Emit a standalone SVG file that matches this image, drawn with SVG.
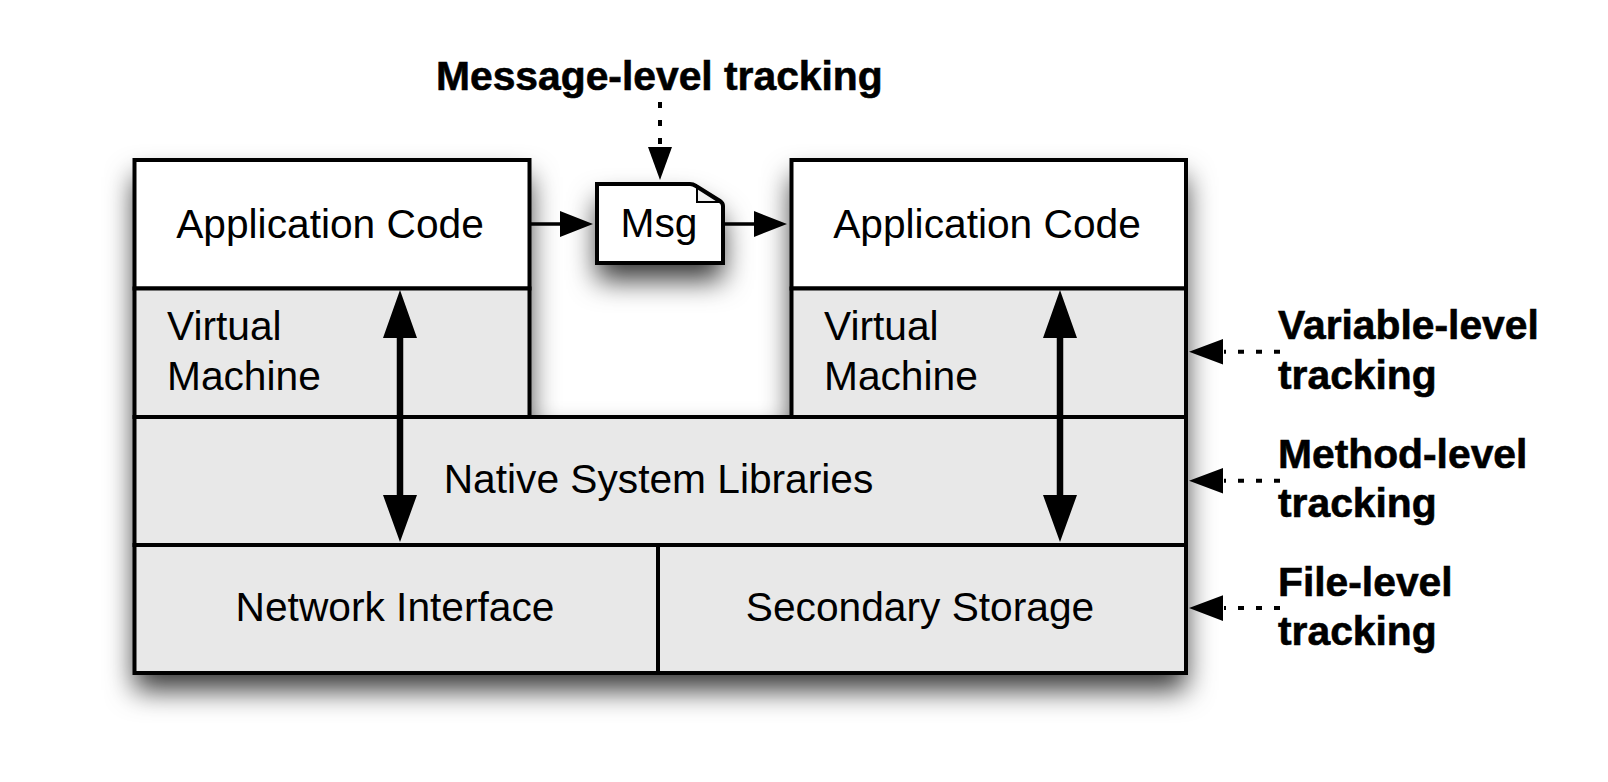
<svg xmlns="http://www.w3.org/2000/svg" width="1608" height="782" viewBox="0 0 1608 782">
<style>
.b{stroke:#000;stroke-width:4}
.w{fill:#fff}.g{fill:#e8e8e8}
text{font-family:"Liberation Sans",Arial,sans-serif;fill:#000}
.t{font-size:40.7px}
.h{font-size:40.8px;font-weight:bold;stroke:#000;stroke-width:.6}
.d{stroke:#000;stroke-width:4;stroke-dasharray:6 12;fill:none}
.s{stroke:#000;stroke-width:3.5;fill:none}
.k{stroke:#000;stroke-width:6.5;fill:none}
</style>
<defs>
<filter id="sh" filterUnits="userSpaceOnUse" x="60" y="100" width="1200" height="680">
<feDropShadow dx="0" dy="17" stdDeviation="14" flood-color="#000" flood-opacity="0.78"/>
</filter>
</defs>
<path d="M134.500 160H529.500V417H791.500V160H1186V673H134.500Z" fill="#fff" filter="url(#sh)"/>
<path d="M597 184H690L723 203V263H597Z" fill="#fff" filter="url(#sh)"/>
<g id="app-left"><rect class="w b" x="134.500" y="160" width="395" height="128.500"/><text class="t" x="330" y="238" text-anchor="middle">Application Code</text></g>
<g id="vm-left"><rect class="g b" x="134.500" y="288.500" width="395" height="128.500"/><text class="t" x="167" y="340">Virtual</text><text class="t" x="167" y="390">Machine</text></g>
<g id="app-right"><rect class="w b" x="791.500" y="160" width="394.500" height="128.500"/><text class="t" x="987" y="238" text-anchor="middle">Application Code</text></g>
<g id="vm-right"><rect class="g b" x="791.500" y="288.500" width="394.500" height="128.500"/><text class="t" x="824" y="340">Virtual</text><text class="t" x="824" y="390">Machine</text></g>
<g id="native"><rect class="g b" x="134.500" y="417" width="1051.500" height="128"/><text class="t" x="658.500" y="493" text-anchor="middle">Native System Libraries</text></g>
<g id="network"><rect class="g b" x="134.500" y="545" width="523.500" height="128"/><text class="t" x="395" y="621" text-anchor="middle">Network Interface</text></g>
<g id="storage"><rect class="g b" x="658" y="545" width="528" height="128"/><text class="t" x="920" y="621" text-anchor="middle">Secondary Storage</text></g>
<g id="msg"><path class="w b" d="M597 184H690Q693 184 696 186L720 201Q723 203 723 206V263H597Z"/><path d="M697 188V202H719Z" fill="#f0f0f0" stroke="#000" stroke-width="2"/><text class="t" x="659" y="237" text-anchor="middle">Msg</text></g>
<g id="connectors">
<path class="s" d="M530 224H562M724 224H756"/>
<path d="M593 224L560 211V237ZM787 224L754 211V237Z"/>
<path class="k" d="M400 330V500M1060 330V500"/>
<path d="M400 290L417 338H383ZM400 542L417 495H383ZM1060 290L1077 338H1043ZM1060 542L1077 495H1043Z"/>
<path class="d" d="M660 102V148"/>
<path d="M660 180L648 147H672Z"/>
<path class="d" d="M1280 351.700H1224M1280 480.700H1224M1280 608H1224"/>
<path d="M1189 351.700L1223 339V364.500ZM1189 480.700L1223 468V493.500ZM1189 608L1223 595.300V621Z"/>
</g>
<g id="label-message"><text class="h" x="436" y="90">Message-level tracking</text></g>
<g id="label-variable"><text class="h" x="1278" y="339">Variable-level</text><text class="h" x="1278" y="389">tracking</text></g>
<g id="label-method"><text class="h" x="1278" y="468">Method-level</text><text class="h" x="1278" y="517">tracking</text></g>
<g id="label-file"><text class="h" x="1278" y="596">File-level</text><text class="h" x="1278" y="645">tracking</text></g>
</svg>
